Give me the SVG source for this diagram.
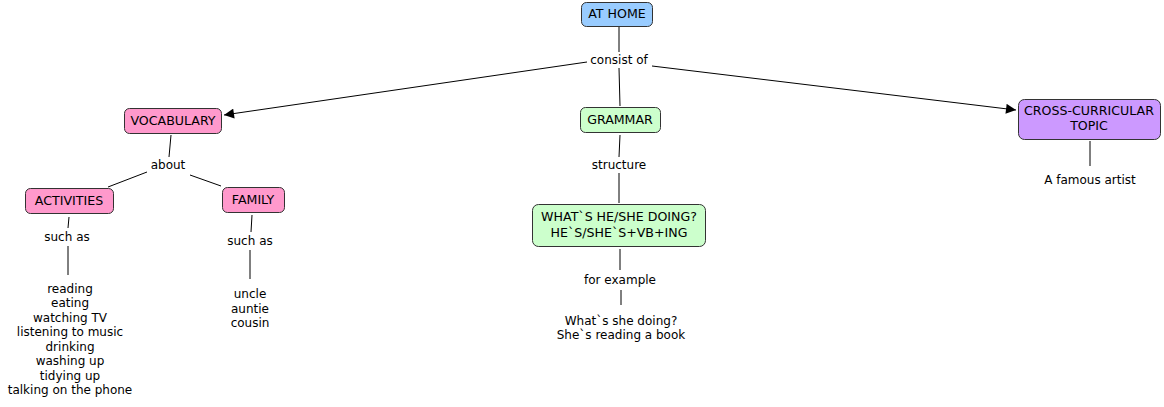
<svg xmlns="http://www.w3.org/2000/svg" width="1164" height="407" viewBox="0 0 1164 407">
<style>
text{font-family:"DejaVu Sans",Verdana,sans-serif;font-size:12px;fill:#000;text-anchor:middle}
.cap{font-size:12.6px}
.box{stroke:#333;stroke-width:1}
.blue{fill:#99ccff}.pink{fill:#ff99cc}.green{fill:#ccffcc}.purple{fill:#cc99ff}
.ln{stroke:#000;stroke-width:1;fill:none}
</style>
<defs>
<marker id="arr" viewBox="0 0 10 10" refX="10" refY="5" markerWidth="12" markerHeight="10" markerUnits="userSpaceOnUse" orient="auto"><path d="M0,0L10,5L0,10z" fill="#000"/></marker>
</defs>
<rect width="1164" height="407" fill="#fff"/>
<g id="connectors">
<line class="ln" x1="619" y1="27" x2="619" y2="52"/>
<line class="ln" x1="619" y1="68" x2="620" y2="106"/>
<line class="ln" x1="587" y1="62" x2="224" y2="115" marker-end="url(#arr)"/>
<line class="ln" x1="652" y1="66" x2="1016" y2="110" marker-end="url(#arr)"/>
<line class="ln" x1="171" y1="135" x2="169" y2="157"/>
<line class="ln" x1="147" y1="172" x2="108" y2="187"/>
<line class="ln" x1="190" y1="175" x2="221" y2="186"/>
<line class="ln" x1="69" y1="217" x2="68" y2="228"/>
<line class="ln" x1="68" y1="246" x2="68" y2="275"/>
<line class="ln" x1="252" y1="215" x2="251" y2="232"/>
<line class="ln" x1="250" y1="250" x2="250" y2="279"/>
<line class="ln" x1="620" y1="135" x2="619" y2="157"/>
<line class="ln" x1="619" y1="173" x2="619" y2="203"/>
<line class="ln" x1="620" y1="249" x2="620" y2="270"/>
<line class="ln" x1="621" y1="290" x2="621" y2="305"/>
<line class="ln" x1="1090" y1="141" x2="1090" y2="166"/>
</g>
<g id="athome"><rect class="box blue" x="581.5" y="2.5" width="71" height="24" rx="5"/><text class="cap" x="617" y="18">AT HOME</text></g>
<g id="consistof"><text x="619" y="64">consist of</text></g>
<g id="vocabulary"><rect class="box pink" x="124.5" y="108.5" width="97" height="25" rx="5"/><text class="cap" x="173" y="125">VOCABULARY</text></g>
<g id="about"><text x="168" y="169">about</text></g>
<g id="activities"><rect class="box pink" x="25.5" y="188.5" width="88" height="25" rx="5"/><text class="cap" x="69" y="205">ACTIVITIES</text></g>
<g id="family"><rect class="box pink" x="222.5" y="187.5" width="62" height="25" rx="5"/><text class="cap" x="253" y="204">FAMILY</text></g>
<g id="suchas1"><text x="67" y="241">such as</text></g>
<g id="activitylist">
<text x="70" y="293">reading</text>
<text x="70" y="307">eating</text>
<text x="70" y="322">watching TV</text>
<text x="70" y="336">listening to music</text>
<text x="70" y="351">drinking</text>
<text x="70" y="365">washing up</text>
<text x="70" y="380">tidying up</text>
<text x="70" y="394">talking on the phone</text>
</g>
<g id="suchas2"><text x="250" y="245">such as</text></g>
<g id="familylist">
<text x="250" y="298">uncle</text>
<text x="250" y="313">auntie</text>
<text x="250" y="327">cousin</text>
</g>
<g id="grammar"><rect class="box green" x="580.5" y="107.5" width="80" height="25" rx="5"/><text class="cap" x="620" y="124">GRAMMAR</text></g>
<g id="structure"><text x="619" y="169">structure</text></g>
<g id="whats"><rect class="box green" x="532.5" y="204.5" width="173" height="42" rx="6"/><text class="cap" x="619" y="221">WHAT`S HE/SHE DOING?</text><text class="cap" x="619" y="237">HE`S/SHE`S+VB+ING</text></g>
<g id="forexample"><text x="620" y="284">for example</text></g>
<g id="example"><text x="621" y="325">What`s she doing?</text><text x="621" y="339">She`s reading a book</text></g>
<g id="crosscurricular"><rect class="box purple" x="1018.5" y="99.5" width="142" height="40" rx="6"/><text class="cap" x="1089" y="115">CROSS-CURRICULAR</text><text class="cap" x="1089" y="130">TOPIC</text></g>
<g id="artist"><text x="1090" y="184">A famous artist</text></g>
</svg>
